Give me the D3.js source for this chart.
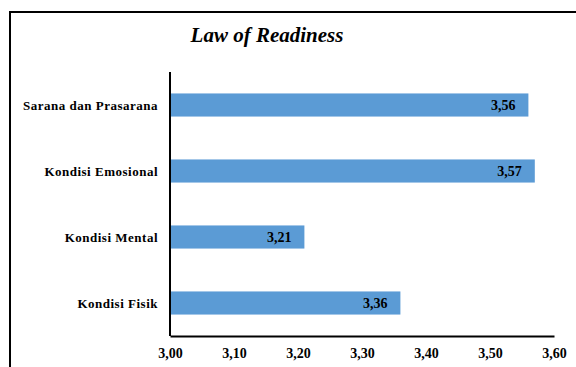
<!DOCTYPE html>
<html>
<head>
<meta charset="utf-8">
<script src="https://cdn.jsdelivr.net/npm/d3@7"></script>
<style>
  body { margin: 0; background: #fff; }
</style>
</head>
<body>
<div id="chart"></div>
<script>
// data, top to bottom
var categories = ['Sarana dan Prasarana', 'Kondisi Emosional', 'Kondisi Mental', 'Kondisi Fisik'];
var values = [3.56, 3.57, 3.21, 3.36];
var xTicks = [3.0, 3.1, 3.2, 3.3, 3.4, 3.5, 3.6];

var W = 576, H = 367;
var margin = { top: 72, right: 22, bottom: 31, left: 170 };
var width = W - margin.left - margin.right,
    height = H - margin.top - margin.bottom;
var FONT = "'Liberation Serif', 'Times New Roman', serif";

var fmt = function(d) { return d3.format('.2f')(d).replace('.', ','); };

var svg = d3.select('#chart').append('svg')
    .attr('width', W)
    .attr('height', H)
    .style('font-family', FONT);

// outer frame (only left and top visible in the crop)
svg.append('path')
    .attr('d', 'M10,' + H + 'V12H' + W)
    .attr('fill', 'none')
    .attr('stroke', '#000')
    .attr('stroke-width', 2);

svg.append('text')
    .attr('x', 267)
    .attr('y', 42)
    .attr('text-anchor', 'middle')
    .style('font-family', FONT)
    .style('font-size', '21px')
    .style('font-weight', 'bold')
    .style('font-style', 'italic')
    .text('Law of Readiness');

var chart = svg.append('g')
    .attr('transform', 'translate(' + margin.left + ',' + margin.top + ')');

var xScale = d3.scaleLinear()
    .domain([3.0, 3.6])
    .range([0, width]);

var yScale = d3.scaleBand()
    .domain(categories)
    .range([0, height])
    .paddingInner(0.65)
    .paddingOuter(0.325);

var rows = categories.map(function(c, i) { return { name: c, value: values[i] }; });

chart.selectAll('rect.bar')
    .data(rows)
    .enter().append('rect')
    .attr('class', 'bar')
    .attr('x', 0)
    .attr('y', function(d) { return yScale(d.name); })
    .attr('width', function(d) { return xScale(d.value); })
    .attr('height', yScale.bandwidth())
    .style('fill', '#5B9BD5');

chart.selectAll('text.val')
    .data(rows)
    .enter().append('text')
    .attr('class', 'val')
    .attr('x', function(d) { return xScale(d.value) - 13; })
    .attr('y', function(d) { return yScale(d.name) + yScale.bandwidth() / 2; })
    .attr('dy', '0.35em')
    .attr('text-anchor', 'end')
    .style('font-family', FONT)
    .style('font-size', '14px')
    .style('font-weight', 'bold')
    .text(function(d) { return fmt(d.value); });

// y axis labels
chart.selectAll('text.cat')
    .data(categories)
    .enter().append('text')
    .attr('class', 'cat')
    .attr('x', -12)
    .attr('y', function(d) { return yScale(d) + yScale.bandwidth() / 2; })
    .attr('dy', '0.35em')
    .attr('text-anchor', 'end')
    .style('font-family', FONT)
    .style('font-size', '13px')
    .style('font-weight', 'bold')
    .style('letter-spacing', '0.5px')
    .text(function(d) { return d; });

chart.append('line')
    .attr('x1', 0).attr('x2', 0)
    .attr('y1', 0).attr('y2', height)
    .attr('stroke', '#000')
    .attr('stroke-width', 2);

var xAxis = chart.append('g')
    .attr('transform', 'translate(0,' + height + ')')
    .call(d3.axisBottom(xScale).tickValues(xTicks).tickFormat(fmt).tickSize(0).tickPadding(12));

xAxis.attr('font-family', null).attr('font-size', null);
xAxis.select('.domain').attr('stroke', '#000').attr('stroke-width', 2);
xAxis.selectAll('text')
    .style('font-family', FONT)
    .style('font-size', '14px')
    .style('font-weight', 'bold')
    .attr('fill', '#000');
</script>
</body>
</html>
